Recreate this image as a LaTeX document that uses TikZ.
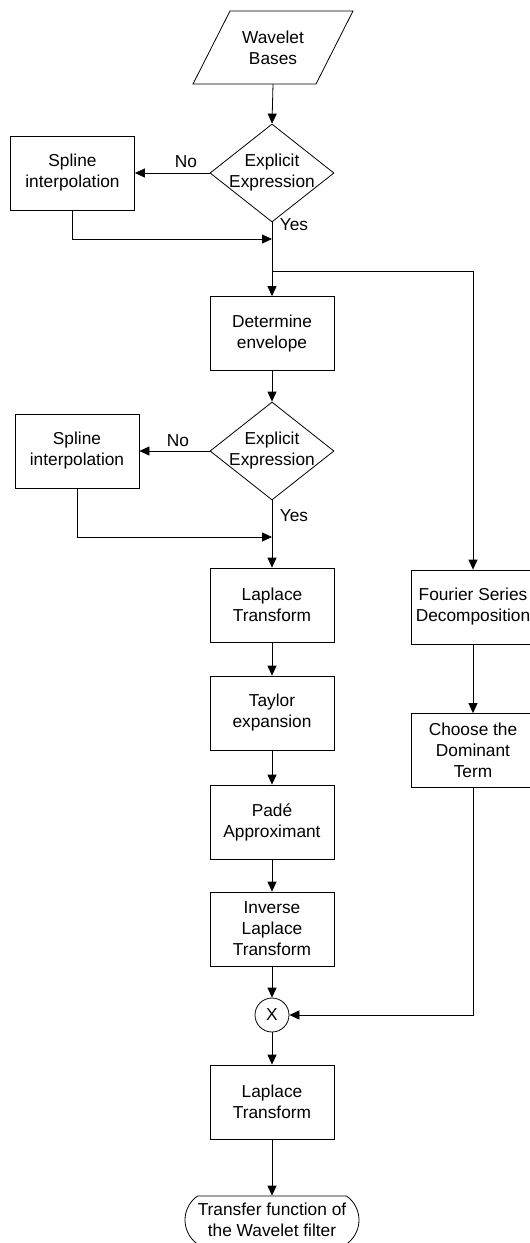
\documentclass[tikz,border=0pt]{standalone}
\usepackage{fontspec}
\setmainfont{Liberation Sans}
\usetikzlibrary{shapes.geometric,shapes.misc,arrows.meta}
\begin{document}
\begin{tikzpicture}[x=1pt,y=-1pt,
  every node/.style={font=\fontsize{17.3}{21}\selectfont, align=center},
  box/.style={draw, rectangle, minimum width=124pt, minimum height=74pt, inner sep=0pt, line width=0.8pt},
  dia/.style={draw, diamond, minimum width=124pt, minimum height=98pt, inner sep=0pt, line width=0.8pt},
  lbl/.style={inner sep=0pt},
  ln/.style={line width=0.8pt},
  arr/.style={line width=0.8pt, -{Triangle[length=10pt,width=9pt]}}]
\clip (0,0) rectangle (530,1243);
% input parallelogram
\draw[ln] (230,11) -- (353,11) -- (316,84) -- (193,84) -- cycle;
\node[lbl, minimum height=73pt] (wb) at (273,47.5) {Wavelet\\Bases};
% first decision
\node[dia] (d1) at (272,173) {};
\node[lbl] (d1t) at (d1.center) {Explicit\\Expression};
\node[box] (s1) at (72.5,173) {Spline\\interpolation};
\node[lbl] (no1) at (186,162) {No};
\node[lbl] (yes1) at (294,225) {Yes};
\coordinate (m1) at (272,239);
\coordinate (j1) at (272,271);
% envelope
\node[box] (det) at (272,333.5) {Determine\\envelope};
\node[dia] (d2) at (272,451) {};
\node[lbl] (d2t) at (d2.center) {Explicit\\Expression};
\node[box] (s2) at (77,451) {Spline\\interpolation};
\node[lbl] (no2) at (178,441) {No};
\node[lbl] (yes2) at (294,516) {Yes};
\coordinate (m2) at (272,537);
% left chain
\node[box] (lap1) at (272,605) {Laplace\\Transform};
\node[box] (tay) at (272,713) {Taylor\\expansion};
\node[box] (pade) at (272,822) {Padé\\Approximant};
\node[box] (inv) at (272,929) {Inverse\\Laplace\\Transform};
\node[draw, circle, minimum size=34pt, inner sep=0pt, line width=0.8pt] (mul) at (272,1015) {X};
\node[box] (lap2) at (272,1102) {Laplace\\Transform};
\node[draw, rounded rectangle, rounded rectangle arc length=110, minimum width=174pt, minimum height=48pt, inner sep=0pt, line width=0.8pt] (tf) at (272,1220) {Transfer function of\\the Wavelet filter};
% right chain
\node[box] (fou) at (473,607) {Fourier Series\\Decomposition};
\node[box] (cho) at (473,750.5) {Choose the\\Dominant\\Term};
% connectors
\draw[arr] (wb.south) -- (d1.north);
\draw[arr] (d1.west) -- (s1.east);
\draw[arr] (s1.south) |- (m1);
\draw[arr] (d1.south) -- (det.north);
\draw[arr] (j1) -| (fou.north);
\draw[arr] (det.south) -- (d2.north);
\draw[arr] (d2.west) -- (s2.east);
\draw[arr] (s2.south) |- (m2);
\draw[arr] (d2.south) -- (lap1.north);
\draw[arr] (lap1.south) -- (tay.north);
\draw[arr] (tay.south) -- (pade.north);
\draw[arr] (pade.south) -- (inv.north);
\draw[arr] (inv.south) -- (mul.north);
\draw[arr] (fou.south) -- (cho.north);
\draw[arr] (cho.south) |- (mul.east);
\draw[arr] (mul.south) -- (lap2.north);
\draw[arr] (lap2.south) -- (tf.north);
\end{tikzpicture}
\end{document}
